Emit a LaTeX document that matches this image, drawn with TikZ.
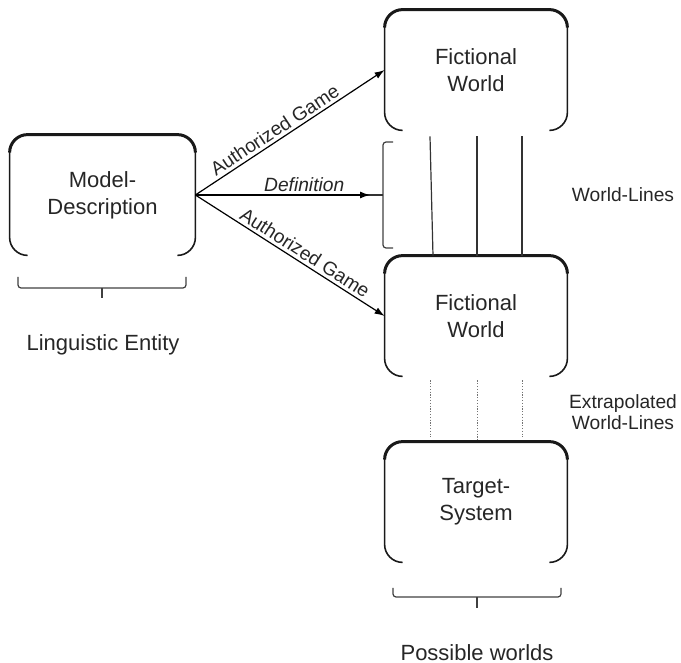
\documentclass[tikz,border=0pt]{standalone}
\usepackage{fontspec}
\setmainfont{Liberation Sans}
\usetikzlibrary{positioning}
\usetikzlibrary{arrows.meta}

\newcommand{\mainsize}{\fontsize{11}{13.5}\selectfont}
\newcommand{\sidesize}{\fontsize{9.6}{10.8}\selectfont}
% box outline without bottom edge, heavier top
\newcommand{\openbox}[1]{%
  \draw[boxline, rounded corners=9pt] ([xshift=9pt]#1.south west) -- (#1.south west)
    -- (#1.north west) -- (#1.north east) -- (#1.south east) -- ([xshift=-9pt]#1.south east);
  \draw[boxline, line width=1.5pt, rounded corners=9pt] ([yshift=-9pt]#1.north west)
    -- (#1.north west) -- (#1.north east) -- ([yshift=-9pt]#1.north east);}

\begin{document}
\begin{tikzpicture}[x=0.5pt, y=-0.5pt,
        box/.style={minimum width=91pt, minimum height=60pt, inner sep=0pt,
                    align=center, font=\mainsize, text=black!85},
        boxline/.style={line width=0.8pt, black!90},
        txt/.style={align=center, font=\mainsize, text=black!85},
        side/.style={align=center, font=\sidesize, text=black!85},
        lab/.style={font=\sidesize, text=black!85, sloped, above, inner sep=1.5pt},
        arr/.style={-{Latex[length=5pt,width=3.5pt]}, line width=0.6pt},
        brk/.style={line width=0.6pt, black!75, rounded corners=1.5pt},
        wl/.style={line width=0.6pt, black!80},
        xl/.style={line width=0.5pt, black!55, dash pattern=on 0.6pt off 0.8pt}]
    \useasboundingbox (0,0) rectangle (681,663);

    \node[box, minimum width=92.5pt] (md) at (102.5,195) {Model-\\Description};
    \node[box] (fw1) at (476,70) {Fictional\\World};
    \node[box] (fw2) at (476,316) {Fictional\\World};
    \node[box] (ts) at (476,502) {Target-\\System};
    \openbox{md}
    \openbox{fw1}
    \openbox{fw2}
    \openbox{ts}

    % brackets
    \draw[brk] (18,277) -- (18,288) -- (186,288) -- (186,277);
    \draw[brk] (102,288) -- (102,298);
    \draw[brk] (393,142) -- (383,142) -- (383,248) -- (393,248);
    \coordinate (defbrk) at (383,195);
    \draw[brk] (393,588) -- (393,597) -- (561,597) -- (561,588);
    \draw[brk] (477,597) -- (477,608);

    % arrows
    \draw[arr] (md.east) -- node[lab, pos=0.45] {Authorized Game} (fw1.west);
    \draw[wl] (md.east) -- (defbrk);
    \draw[arr, shorten >=6.5pt] (md.east) -- node[lab, pos=0.58, font=\sidesize\itshape] {Definition} (defbrk);
    \draw[arr] (md.east) -- node[lab, pos=0.55] {Authorized Game} (fw2.west);

    % world-lines
    \draw[wl] ([xshift=-23pt,yshift=-3pt]fw1.south) -- ([xshift=-21.5pt]fw2.north);
    \draw[wl] ([xshift=0.5pt,yshift=-3pt]fw1.south) -- ([xshift=0.5pt]fw2.north);
    \draw[wl] ([xshift=23pt,yshift=-3pt]fw1.south) -- ([xshift=23pt]fw2.north);
    \draw[xl] ([xshift=-23pt,yshift=-2pt]fw2.south) -- ([xshift=-23pt,yshift=2.5pt]ts.north);
    \draw[xl] ([xshift=0.5pt,yshift=-2pt]fw2.south) -- ([xshift=0.5pt]ts.north);
    \draw[xl] ([xshift=23pt,yshift=-2pt]fw2.south) -- ([xshift=23pt,yshift=2.5pt]ts.north);

    \node[side] (wlines) at (623,195) {World-Lines};
    \node[side] (xlines) at (623,412) {Extrapolated\\World-Lines};
    \node[txt] (ling) at (103,345) {Linguistic Entity};
    \node[txt] (poss) at (477,653) {Possible worlds};
\end{tikzpicture}
\end{document}
